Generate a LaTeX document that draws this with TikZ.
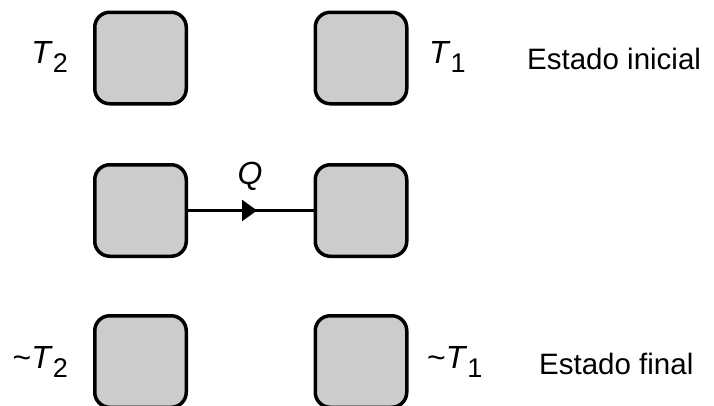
\documentclass[tikz,border=0pt]{standalone}
\usepackage{fontspec}
\setmainfont{Liberation Sans}
\usetikzlibrary{arrows.meta,decorations.markings}
\tikzset{
  body/.style={draw,line width=3.5pt,fill=gray!40,rounded corners=15pt,
    minimum width=91.5pt,minimum height=91.5pt,inner sep=0pt},
  lbl/.style={font=\fontsize{32}{38}\selectfont,inner sep=0pt},
  state/.style={font=\fontsize{29.5}{35}\selectfont,inner sep=0pt},
  flow/.style={line width=2.5pt,decoration={markings,
    mark=at position 0.55 with {\arrow{Triangle[length=15pt,width=21pt]}}},
    postaction={decorate}}
}
\newcommand{\temp}[1]{\textit{T}\raisebox{-9pt}{\fontsize{27}{27}\selectfont #1}}
\begin{document}
\begin{tikzpicture}[x=1pt,y=-1pt]
  \useasboundingbox (0,0) rectangle (714,405);
  % initial state
  \node [body] (b2i) at (140.5,58) {};
  \node [body] (b1i) at (361,58) {};
  \node [lbl,anchor=base east] (t2i) at (68,63) {\temp{2}};
  \node [lbl,anchor=base west] (t1i) at (429,63) {\temp{1}};
  \node [state,anchor=base west] (ini) at (527,69) {Estado inicial};
  % contact
  \node [body] (b2c) at (140.5,210.5) {};
  \node [body] (b1c) at (361,210.5) {};
  \node [lbl] (q) at (250,176) {\textit{Q}};
  \draw [flow] (b2c) -- (b1c);
  % final state
  \node [body] (b2f) at (140.5,361.5) {};
  \node [body] (b1f) at (361,361.5) {};
  \node [lbl,anchor=base east] (t2f) at (68,368) {\textasciitilde\temp{2}};
  \node [lbl,anchor=base west] (t1f) at (427,368) {\textasciitilde\temp{1}};
  \node [state,anchor=base west] (fin) at (539,374) {Estado final};
\end{tikzpicture}
\end{document}
